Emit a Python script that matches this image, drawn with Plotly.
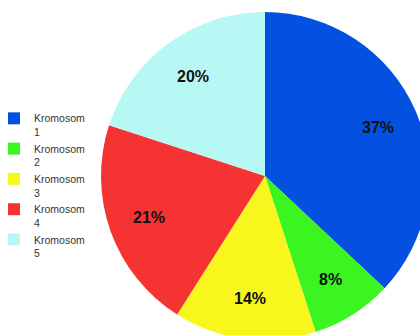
import math
import plotly.graph_objects as go

labels = ["Kromosom<br>1", "Kromosom<br>2", "Kromosom<br>3", "Kromosom<br>4", "Kromosom<br>5"]
values = [37, 8, 14, 21, 20]
colors = ["#0450e0", "#3af520", "#f7f71e", "#f53333", "#b8f8f4"]

SHIFT = 11  # page is shifted left by this many pixels
W, H = 440 + SHIFT, 350
cx, cy, r = 265 + SHIFT, 176, 164

fig = go.Figure(go.Pie(
    labels=labels,
    values=values,
    sort=False,
    direction="clockwise",
    rotation=0,
    marker=dict(colors=colors, line=dict(width=0)),
    textinfo="none",
    domain=dict(x=[(cx - r) / W, (cx + r) / W], y=[(H - cy - r) / H, (H - cy + r) / H]),
    hoverinfo="skip",
))

total = sum(values)
cum = 0
for v in values:
    mid = (cum + v / 2) / total * 2 * math.pi
    cum += v
    px = cx + 0.75 * r * math.sin(mid)
    py = cy - 0.75 * r * math.cos(mid)
    fig.add_annotation(
        x=px / W, y=1 - py / H, xref="paper", yref="paper",
        text=f"<b>{round(v / total * 100)}%</b>", showarrow=False,
        font=dict(family="Arial, Liberation Sans, sans-serif", size=16, color="#111111"),
        xanchor="center", yanchor="middle",
    )

fig.update_layout(
    width=W, height=H,
    margin=dict(l=0, r=0, t=0, b=0),
    paper_bgcolor="white",
    showlegend=True,
    legend=dict(
        x=5 / W, y=1 - 105 / H, xanchor="left", yanchor="top",
        bgcolor="rgba(0,0,0,0)",
        font=dict(family="Arial, Liberation Sans, sans-serif", size=10.5, color="#333333"),
        valign="top",
        tracegroupgap=0,
        itemwidth=30,
    ),
)

post = f"""
document.documentElement.style.overflow='hidden';
document.body.style.overflow='hidden';
document.body.style.margin='0';
var gd = document.getElementsByClassName('plotly-graph-div')[0];
gd.style.marginLeft='-{SHIFT}px';
"""
fig.write_html("out.html", post_script=post)
